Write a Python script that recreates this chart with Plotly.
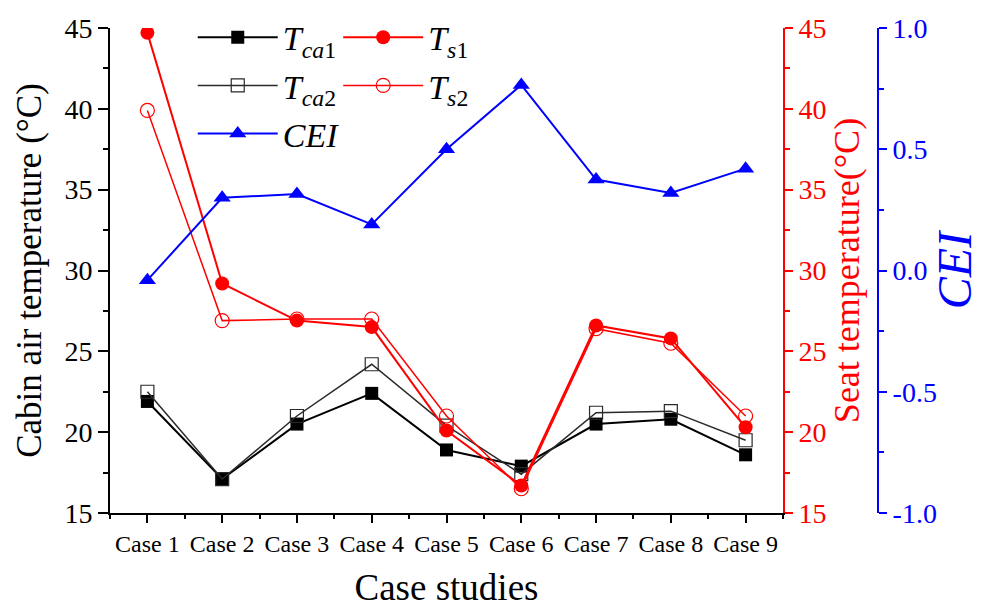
import plotly.graph_objects as go

# Case studies and measured quantities
cases = ["Case 1", "Case 2", "Case 3", "Case 4", "Case 5",
         "Case 6", "Case 7", "Case 8", "Case 9"]
case_idx = [1, 2, 3, 4, 5, 6, 7, 8, 9]

t_ca1 = [21.9, 17.1, 20.5, 22.4, 18.9, 17.9, 20.5, 20.8, 18.6]
t_ca2 = [22.5, 17.1, 21.0, 24.2, 20.4, 17.4, 21.2, 21.3, 19.5]
t_s1 = [44.7, 29.2, 26.9, 26.5, 20.1, 16.7, 26.6, 25.8, 20.3]
t_s2 = [39.9, 26.9, 27.0, 27.0, 21.0, 16.5, 26.4, 25.5, 21.0]
cei = [-0.04, 0.30, 0.315, 0.19, 0.50, 0.765, 0.375, 0.32, 0.42]

cei_ticks = [-1.0, -0.5, 0.0, 0.5, 1.0]
cei_ticktext = ["-1.0", "-0.5", "0.0", "0.5", "1.0"]

FONT = "Liberation Serif"
RED = "#ff0000"
BLUE = "#0000ff"

fig = go.Figure()

fig.add_trace(go.Scatter(
    x=case_idx, y=t_ca1, mode="lines+markers", yaxis="y",
    name="<i>T</i><sub><i>ca</i>1</sub>", legend="legend", legendgroup="a",
    line=dict(color="black", width=2),
    marker=dict(symbol="square", size=13, color="black"),
))
fig.add_trace(go.Scatter(
    x=case_idx, y=t_ca2, mode="lines+markers", yaxis="y",
    name="<i>T</i><sub><i>ca</i>2</sub>", legend="legend", legendgroup="b",
    line=dict(color="#2a2a2a", width=1.5),
    marker=dict(symbol="square-open", size=13, color="#2a2a2a",
                line=dict(width=1.2)),
))
fig.add_trace(go.Scatter(
    x=case_idx, y=cei, mode="lines+markers", yaxis="y3",
    name="<i>CEI</i>", legend="legend", legendgroup="c",
    line=dict(color=BLUE, width=2),
    marker=dict(symbol="triangle-up", size=15, color=BLUE),
))
fig.add_trace(go.Scatter(
    x=case_idx, y=t_s1, mode="lines+markers", yaxis="y2",
    name="<i>T</i><sub><i>s</i>1</sub>", legend="legend2", legendgroup="d",
    line=dict(color=RED, width=2),
    marker=dict(symbol="circle", size=14, color=RED),
))
fig.add_trace(go.Scatter(
    x=case_idx, y=t_s2, mode="lines+markers", yaxis="y2",
    name="<i>T</i><sub><i>s</i>2</sub>", legend="legend2", legendgroup="e",
    line=dict(color=RED, width=1.5),
    marker=dict(symbol="circle-open", size=14, color=RED,
                line=dict(width=1.2)),
))

x_end = 673 / 871
cei_pos = 768 / 871

legend_style = dict(
    font=dict(family=FONT, size=34, color="black"),
    bgcolor="rgba(0,0,0,0)", borderwidth=0,
    itemwidth=80, tracegroupgap=1,
    xanchor="left", yanchor="top", orientation="v",
)

fig.update_layout(
    width=981, height=608,
    margin=dict(l=110, r=0, t=28, b=95),
    paper_bgcolor="white", plot_bgcolor="white",
    font=dict(family=FONT, size=24, color="black"),
    showlegend=True,
    legend=dict(x=0.095, y=1.04, **legend_style),
    legend2=dict(x=0.262, y=1.04, **legend_style),
    xaxis=dict(
        domain=[0, x_end], range=[0.5, 9.5],
        tickmode="array", tickvals=case_idx, ticktext=cases,
        tickfont=dict(family=FONT, size=24, color="black"),
        ticks="outside", ticklen=8, tickwidth=1.5, tickcolor="black",
        minor=dict(ticks="outside", ticklen=4, tickwidth=1.5,
                   tick0=0.5, dtick=0.5, tickcolor="black"),
        showline=True, linecolor="black", linewidth=2,
        showgrid=False, zeroline=False, automargin=False,
        title=dict(text="Case studies",
                   font=dict(family=FONT, size=37, color="black"),
                   standoff=24),
    ),
    yaxis=dict(
        range=[15, 45], tick0=15, dtick=5,
        tickfont=dict(family=FONT, size=28, color="black"),
        ticks="outside", ticklen=10, tickwidth=1.5, tickcolor="black",
        minor=dict(ticks="outside", ticklen=5, tickwidth=1.5,
                   dtick=2.5, tick0=15, tickcolor="black"),
        showline=True, linecolor="black", linewidth=2,
        showgrid=False, zeroline=False, automargin=False,
        title=dict(text="Cabin air temperature (°C)",
                   font=dict(family=FONT, size=35, color="black"),
                   standoff=12),
    ),
    yaxis2=dict(
        overlaying="y", side="right", anchor="x",
        range=[15, 45], tick0=15, dtick=5,
        tickfont=dict(family=FONT, size=28, color=RED),
        ticks="outside", ticklen=8, tickwidth=1.5, tickcolor=RED,
        minor=dict(ticks="outside", ticklen=5, tickwidth=1.5,
                   dtick=2.5, tick0=15, tickcolor=RED),
        showline=True, linecolor=RED, linewidth=2,
        showgrid=False, zeroline=False, automargin=False,
        title=dict(text="Seat temperature(°C)",
                   font=dict(family=FONT, size=36, color=RED),
                   standoff=2),
    ),
    yaxis3=dict(
        overlaying="y", side="right", anchor="free", position=cei_pos,
        range=[-1, 1], tickmode="array",
        tickvals=cei_ticks, ticktext=cei_ticktext,
        tickfont=dict(family=FONT, size=28, color=BLUE),
        ticks="outside", ticklen=8, tickwidth=1.5, tickcolor=BLUE,
        minor=dict(ticks="outside", ticklen=5, tickwidth=1.5,
                   tickmode="linear", dtick=0.25, tick0=-1, tickcolor=BLUE),
        showline=True, linecolor=BLUE, linewidth=2,
        showgrid=False, zeroline=False, automargin=False,
        title=dict(text="<i>CEI</i>",
                   font=dict(family=FONT, size=48, color=BLUE),
                   standoff=12),
    ),
)

fig.write_html("out.html")
